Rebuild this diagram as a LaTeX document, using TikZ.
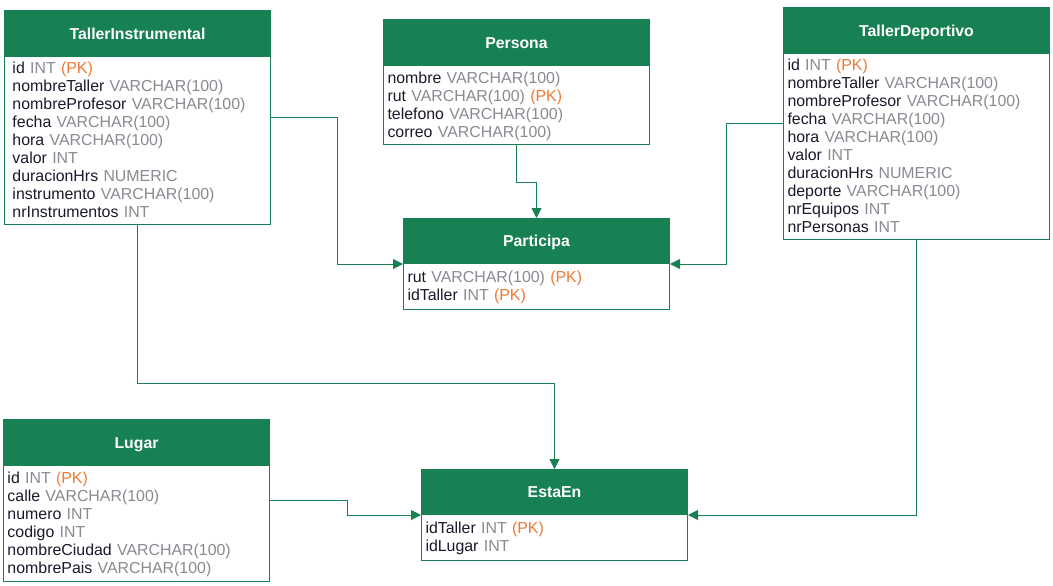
\documentclass[tikz,border=0pt]{standalone}
\usepackage{fontspec}
\setmainfont{Liberation Sans}
\usetikzlibrary{arrows.meta,positioning}
\definecolor{grn}{HTML}{188153}
\definecolor{nm}{HTML}{1A1A2C}
\definecolor{ty}{HTML}{8A8A92}
\definecolor{pkc}{HTML}{EE7A36}
\newcommand\rs{\rule[-3.9pt]{0pt}{18pt}}
\newcommand\fld[2]{\rs\textcolor{nm}{#1} \textcolor{ty}{#2}}
\newcommand\pkx{ \textcolor{pkc}{(PK)}}
\begin{document}
\begin{tikzpicture}[x=1pt,y=-1pt,
  hdr/.style={draw=grn,fill=grn,line width=1pt,anchor=north west,minimum width=266pt,
    minimum height=46pt,inner sep=0pt,text=white,font=\fontsize{15.8}{18}\selectfont\bfseries,
    text height=11.3pt,text depth=0pt},
  bdy/.style={draw=grn,fill=white,line width=1pt,anchor=north west,minimum width=266pt,
    inner xsep=4pt,inner ysep=0pt,text width=258pt,align=left,
    font=\fontsize{15.9}{18}\selectfont},
  conn/.style={draw=grn,line width=1pt,-{Triangle[length=10pt,width=10pt]}}]
\useasboundingbox (0,0) rectangle (1053,586);
% TallerInstrumental
\node[bdy,minimum height=168pt,inner xsep=8pt,text width=250pt] (tib) at (4,56) {%
\fld{id}{INT}\pkx\\
\fld{nombreTaller}{VARCHAR(100)}\\
\fld{nombreProfesor}{VARCHAR(100)}\\
\fld{fecha}{VARCHAR(100)}\\
\fld{hora}{VARCHAR(100)}\\
\fld{valor}{INT}\\
\fld{duracionHrs}{NUMERIC}\\
\fld{instrumento}{VARCHAR(100)}\\
\fld{nrInstrumentos}{INT}};
\node[hdr] (tih) at (4,10) {TallerInstrumental};
% Persona
\node[bdy,minimum height=79pt] (peb) at (383,65) {%
\fld{nombre}{VARCHAR(100)}\\
\fld{rut}{VARCHAR(100)}\pkx\\
\fld{telefono}{VARCHAR(100)}\\
\fld{correo}{VARCHAR(100)}};
\node[hdr] (peh) at (383,19) {Persona};
% TallerDeportivo
\node[bdy,minimum height=186pt] (tdb) at (783,53) {%
\fld{id}{INT}\pkx\\
\fld{nombreTaller}{VARCHAR(100)}\\
\fld{nombreProfesor}{VARCHAR(100)}\\
\fld{fecha}{VARCHAR(100)}\\
\fld{hora}{VARCHAR(100)}\\
\fld{valor}{INT}\\
\fld{duracionHrs}{NUMERIC}\\
\fld{deporte}{VARCHAR(100)}\\
\fld{nrEquipos}{INT}\\
\fld{nrPersonas}{INT}};
\node[hdr] (tdh) at (783,7) {TallerDeportivo};
% Participa
\node[bdy,minimum height=46pt] (pab) at (403,263) {%
\fld{rut}{VARCHAR(100)}\pkx\\
\fld{idTaller}{INT}\pkx};
\node[hdr,minimum height=45pt] (pah) at (403,218) {Participa};
% Lugar
\node[bdy,minimum height=116pt] (lub) at (3,465) {%
\fld{id}{INT}\pkx\\
\fld{calle}{VARCHAR(100)}\\
\fld{numero}{INT}\\
\fld{codigo}{INT}\\
\fld{nombreCiudad}{VARCHAR(100)}\\
\fld{nombrePais}{VARCHAR(100)}};
\node[hdr] (luh) at (3,419) {Lugar};
% EstaEn
\node[bdy,minimum height=46pt] (eeb) at (421,514) {%
\fld{idTaller}{INT}\pkx\\
\fld{idLugar}{INT}};
\node[hdr,minimum height=45pt] (eeh) at (421,469) {EstaEn};
% connectors
\draw[conn] ([yshift=23pt]tib.east) -- ++(66,0) |- (pah.south west);
\draw[conn] (peb.south) -- ++(0,37) -| (pah.north);
\draw[conn] ([yshift=23pt]tdb.west) -- ++(-57,0) |- (pah.south east);
\draw[conn] (tib.south) -- ++(0,158) -| (eeh.north);
\draw[conn] ([yshift=23pt]lub.east) -- ++(77,0) |- (eeh.south west);
\draw[conn] (tdb.south) |- (eeh.south east);
\end{tikzpicture}
\end{document}
